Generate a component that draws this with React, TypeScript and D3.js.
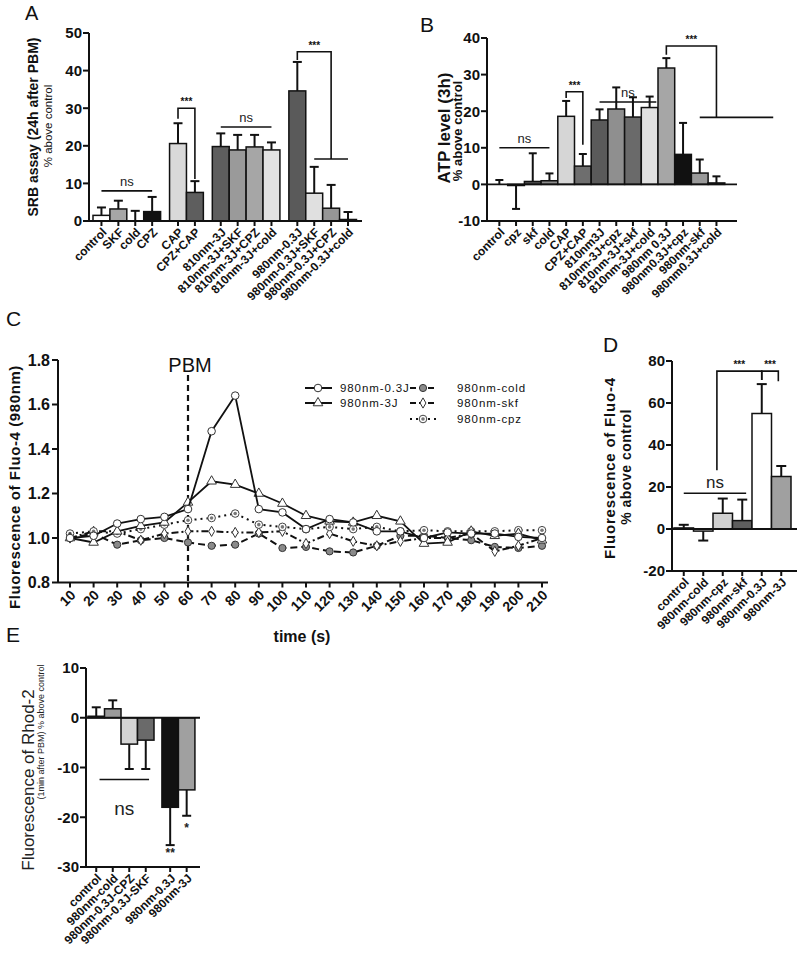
import * as d3 from 'd3';
import * as React from 'react';

const FONT = '"Liberation Sans", Arial, sans-serif';
const INK = '#111';

// ---------- panel A : SRB assay ----------
const aLabels = ['control', 'SKF', 'cold', 'CPZ', 'CAP', 'CPZ+CAP', '810nm-3J', '810nm-3J+SKF', '810nm-3J+CPZ', '810nm-3J+cold', '980nm-0.3J', '980nm-0.3J+SKF', '980nm-0.3J+CPZ', '980nm-0.3J+cold'];
const aGroups = [0, 0, 0, 0, 1, 1, 2, 2, 2, 2, 3, 3, 3, 3];
const aValues = [1.5, 3.2, 0, 2.5, 20.6, 7.6, 19.8, 18.9, 19.7, 18.9, 34.6, 7.4, 3.4, 0.4];
const aErrEnd = [3.6, 5.4, 2.7, 6.4, 26, 10.6, 23.3, 22.9, 22.9, 20.9, 42.3, 14.4, 9.6, 2.4];
const aFills = ['#ffffff', '#a6a6a6', '#ffffff', '#111111', '#d9d9d9', '#5e5e5e', '#5e5e5e', '#9a9a9a', '#a6a6a6', '#e2e2e2', '#5a5a5a', '#e0e0e0', '#969696', '#ffffff'];
const aTicks = [0, 10, 20, 30, 40, 50];

// ---------- panel B : ATP level ----------
const bLabels = ['control', 'cpz', 'skf', 'cold', 'CAP', 'CPZ+CAP', '810nm3J', '810nm-3J+cpz', '810nm-3J+skf', '810nm-3J+cold', '980nm 0.3J', '980nm0.3J+cpz', '980nm-skf', '980nm0.3J+cold'];
const bValues = [0, -0.3, 0.8, 1, 18.6, 5, 17.6, 20.6, 18.4, 21, 31.8, 8.2, 3.1, 0.4];
const bErrEnd = [1.2, -6.7, 8.5, 3, 22.8, 8.3, 20.5, 26.5, 23.8, 24, 34.5, 16.8, 6.8, 2.2];
const bFills = ['#ffffff', '#ffffff', '#555555', '#8c8c8c', '#d6d6d6', '#6e6e6e', '#5a5a5a', '#8f8f8f', '#6a6a6a', '#e0e0e0', '#a6a6a6', '#111111', '#9a9a9a', '#ffffff'];
const bTicks = [-10, 0, 10, 20, 30, 40];

// ---------- panel C : Fluo-4 time course ----------
const cTimes = [10, 20, 30, 40, 50, 60, 70, 80, 90, 100, 110, 120, 130, 140, 150, 160, 170, 180, 190, 200, 210];
const c03J = [1.0, 1.01, 1.065, 1.085, 1.095, 1.13, 1.48, 1.64, 1.13, 1.115, 1.04, 1.085, 1.07, 1.03, 1.03, 1.0, 1.025, 1.02, 1.02, 1.005, 1.0];
const c3J = [1.0, 0.98, 1.03, 1.055, 1.07, 1.16, 1.255, 1.24, 1.2, 1.155, 1.1, 1.075, 1.07, 1.1, 1.075, 0.975, 0.98, 1.03, 1.01, 1.02, 0.99];
const cCold = [1.0, 1.02, 0.97, 0.99, 1.0, 0.98, 0.965, 0.97, 1.02, 0.955, 0.96, 0.94, 0.935, 0.965, 1.01, 1.01, 1.0, 0.99, 0.96, 0.955, 0.965];
const cSkf = [1.0, 1.03, 1.03, 0.99, 1.02, 1.03, 1.03, 1.025, 1.025, 1.03, 0.975, 1.02, 0.985, 0.965, 0.985, 1.0, 1.0, 1.02, 0.94, 0.965, 1.0];
const cCpz = [1.02, 1.03, 1.02, 1.04, 1.06, 1.08, 1.09, 1.11, 1.06, 1.05, 1.04, 1.05, 1.04, 1.05, 1.03, 1.035, 1.03, 1.03, 1.03, 1.035, 1.035];
const cYTicks = [0.8, 1.0, 1.2, 1.4, 1.6, 1.8];

// ---------- panel D : Fluo-4 % ----------
const dLabels = ['control', '980nm-cold', '980nm-cpz', '980nm-skf', '980nm-0.3J', '980nm-3J'];
const dValues = [0.5, -1, 7.5, 4, 55, 25];
const dErrEnd = [2, -5.5, 14.5, 14, 69, 30];
const dFills = ['#ffffff', '#ffffff', '#d0d0d0', '#5e5e5e', '#ffffff', '#a0a0a0'];
const dTicks = [-20, 0, 20, 40, 60, 80];

// ---------- panel E : Rhod-2 ----------
const eLabels = ['control', '980nm-cold', '980nm-0.3J-CPZ', '980nm-0.3J-SKF', '980nm-0.3J', '980nm-3J'];
const eGroups = [0, 0, 0, 0, 1, 1];
const eValues = [0.3, 1.8, -5.3, -4.5, -18, -14.5];
const eErrEnd = [2.1, 3.5, -10.3, -10.3, -25.6, -19.7];
const eFills = ['#ffffff', '#9a9a9a', '#d4d4d4', '#6a6a6a', '#111111', '#a0a0a0'];
const eTicks = [-30, -20, -10, 0, 10];

type Ns = { from: number; to: number; y: number; label?: string; labelY?: number; size?: number };
type Bracket = { from: number; to: number; y: number; drop1: number; drop2: number; label: string };
type BarCfg = {
  labels: string[];
  groups?: number[];
  values: number[];
  errEnd: number[];
  fills: string[];
  ticks: number[];
  yDomain: [number, number];
  yRange: [number, number];
  axisX: number;
  firstX: number;
  slot: number;
  gapRatio: number;
  axisEnd: number;
  capW: number;
  tickSize: number;
  labelSize: number;
  ns: Ns[];
  brackets: Bracket[];
  lines: { from: number; to: number; y: number }[];
  stars?: { i: number; y: number; label: string }[];
};

function BarPanel({ p }: { p: BarCfg }) {
  const y = d3.scaleLinear().domain(p.yDomain).range(p.yRange);
  const n = p.labels.length;
  const grp = (i: number) => (p.groups ? p.groups[Math.max(0, Math.min(n - 1, Math.floor(i)))] : 0);
  const slot = d3.scaleLinear().domain([0, 1]).range([p.firstX, p.firstX + p.slot]);
  const left = (i: number) => slot(i + grp(i) * p.gapRatio);
  const cx = (i: number) => slot(i + 0.5 + grp(i) * p.gapRatio);
  const bottom = y(p.yDomain[0]);
  const top = y(p.yDomain[1]);
  const zero = y(0);

  return (
    <g>
      {p.values.map((v, i) => (
        <g key={i}>
          <line x1={cx(i)} x2={cx(i)} y1={y(v)} y2={y(p.errEnd[i])} stroke={INK} strokeWidth={2} />
          <line x1={cx(i) - p.capW / 2} x2={cx(i) + p.capW / 2} y1={y(p.errEnd[i])} y2={y(p.errEnd[i])} stroke={INK} strokeWidth={2} />
          {v !== 0 && (
            <rect x={left(i)} width={p.slot} y={Math.min(y(v), zero)} height={Math.abs(y(v) - zero)} fill={p.fills[i]} stroke={INK} strokeWidth={1.5} />
          )}
        </g>
      ))}
      {p.yDomain[0] < 0 && <line x1={p.axisX} x2={p.axisEnd} y1={zero} y2={zero} stroke={INK} strokeWidth={1.8} />}
      <line x1={p.axisX} x2={p.axisX} y1={bottom} y2={top} stroke={INK} strokeWidth={2} />
      <line x1={p.axisX} x2={p.axisEnd} y1={bottom} y2={bottom} stroke={INK} strokeWidth={2} />
      {p.ticks.map((t) => (
        <g key={t}>
          <line x1={p.axisX - 6} x2={p.axisX} y1={y(t)} y2={y(t)} stroke={INK} strokeWidth={2} />
          <text x={p.axisX - 7} y={y(t)} dy="0.36em" textAnchor="end" fontSize={p.tickSize} fontWeight="bold" fill={INK}>
            {t}
          </text>
        </g>
      ))}
      {p.labels.map((l, i) => (
        <g key={l}>
          <line x1={cx(i)} x2={cx(i)} y1={bottom} y2={bottom + 5} stroke={INK} strokeWidth={2} />
          <text transform={`translate(${cx(i) + 3},${bottom + 9}) rotate(-45)`} textAnchor="end" dy="0.35em" fontSize={p.labelSize} fontWeight="bold" fill={INK}>
            {l}
          </text>
        </g>
      ))}
      {p.ns.map((s, k) => (
        <g key={k}>
          <line x1={cx(s.from)} x2={cx(s.to)} y1={y(s.y)} y2={y(s.y)} stroke={INK} strokeWidth={1.6} />
          <text x={(cx(s.from) + cx(s.to)) / 2} y={s.labelY !== undefined ? y(s.labelY) : y(s.y) - 5} textAnchor="middle" fontSize={s.size ?? 13} fill="#222">
            {s.label ?? 'ns'}
          </text>
        </g>
      ))}
      {p.brackets.map((b, k) => (
        <g key={k}>
          <path d={`M${cx(b.from)},${y(b.drop1)}V${y(b.y)}H${cx(b.to)}V${y(b.drop2)}`} fill="none" stroke={INK} strokeWidth={1.6} />
          <text x={(cx(b.from) + cx(b.to)) / 2} y={y(b.y) - 3} textAnchor="middle" fontSize={10} fontWeight="bold" fill={INK}>
            {b.label}
          </text>
        </g>
      ))}
      {p.lines.map((l, k) => (
        <line key={k} x1={cx(l.from)} x2={cx(l.to)} y1={y(l.y)} y2={y(l.y)} stroke={INK} strokeWidth={1.6} />
      ))}
      {(p.stars ?? []).map((s, k) => (
        <text key={k} x={cx(s.i)} y={y(s.y)} textAnchor="middle" fontSize={12} fontWeight="bold" fill="#222">
          {s.label}
        </text>
      ))}
    </g>
  );
}

const panelA: BarCfg = {
  labels: aLabels, groups: aGroups, values: aValues, errEnd: aErrEnd, fills: aFills, ticks: aTicks,
  yDomain: [0, 50], yRange: [221, 33], axisX: 89, firstX: 93, slot: 16.9, gapRatio: 0.53, axisEnd: 362,
  capW: 9, tickSize: 15, labelSize: 12,
  ns: [{ from: 0, to: 3, y: 8 }, { from: 6, to: 9, y: 25 }],
  brackets: [
    { from: 4, to: 5, y: 30, drop1: 27.2, drop2: 11.2, label: '***' },
    { from: 10, to: 12, y: 45, drop1: 42.8, drop2: 16.5, label: '***' },
  ],
  lines: [{ from: 11, to: 13, y: 16.5 }],
};

const panelB: BarCfg = {
  labels: bLabels, values: bValues, errEnd: bErrEnd, fills: bFills, ticks: bTicks,
  yDomain: [-10, 40], yRange: [221, 38], axisX: 487, firstX: 491, slot: 16.7, gapRatio: 0, axisEnd: 737,
  capW: 8, tickSize: 15, labelSize: 12,
  ns: [{ from: 0, to: 3, y: 10 }, { from: 6, to: 9.4, y: 22.5 }],
  brackets: [
    { from: 4, to: 5, y: 25.3, drop1: 23.6, drop2: 10.8, label: '***' },
    { from: 10, to: 13, y: 37.8, drop1: 35.4, drop2: 18.3, label: '***' },
  ],
  lines: [{ from: 12, to: 16.4, y: 18.3 }],
};

const panelD: BarCfg = {
  labels: dLabels, values: dValues, errEnd: dErrEnd, fills: dFills, ticks: dTicks,
  yDomain: [-20, 80], yRange: [571, 361], axisX: 672, firstX: 674, slot: 19.5, gapRatio: 0, axisEnd: 797,
  capW: 10, tickSize: 15, labelSize: 12,
  ns: [{ from: 0, to: 3.2, y: 17, size: 17 }],
  brackets: [
    { from: 1.7, to: 4, y: 75.2, drop1: 28, drop2: 71, label: '***' },
    { from: 4, to: 4.85, y: 75.2, drop1: 71, drop2: 70.3, label: '***' },
  ],
  lines: [],
};

const panelE: BarCfg = {
  labels: eLabels, groups: eGroups, values: eValues, errEnd: eErrEnd, fills: eFills, ticks: eTicks,
  yDomain: [-30, 10], yRange: [867, 668], axisX: 86, firstX: 88, slot: 16.5, gapRatio: 0.48, axisEnd: 200,
  capW: 9, tickSize: 15, labelSize: 12,
  ns: [{ from: 0.2, to: 3.2, y: -12.4, labelY: -19.6, size: 19 }],
  brackets: [],
  lines: [],
  stars: [{ i: 4, y: -28, label: '**' }, { i: 5, y: -23, label: '*' }],
};

type SeriesDef = { name: string; values: number[]; dash: string; marker: string; width: number };
const cSeries: SeriesDef[] = [
  { name: '980nm-cold', values: cCold, dash: '7,4', marker: 'filled', width: 2 },
  { name: '980nm-skf', values: cSkf, dash: '7,3,2,3', marker: 'diamond', width: 2 },
  { name: '980nm-cpz', values: cCpz, dash: '2,4', marker: 'dot', width: 2 },
  { name: '980nm-3J', values: c3J, dash: '', marker: 'triangle', width: 1.8 },
  { name: '980nm-0.3J', values: c03J, dash: '', marker: 'circle', width: 1.8 },
];

function Marker({ kind, x, y }: { kind: string; x: number; y: number }) {
  if (kind === 'triangle') {
    return <path d={d3.symbol(d3.symbolTriangle, 40)()!} transform={`translate(${x},${y})`} fill="#fff" stroke="#333" strokeWidth={1} />;
  }
  if (kind === 'diamond') {
    return <path d={d3.symbol(d3.symbolDiamond, 30)()!} transform={`translate(${x},${y})`} fill="#fff" stroke="#333" strokeWidth={1} />;
  }
  if (kind === 'filled') {
    return <circle cx={x} cy={y} r={3.6} fill="#8a8a8a" stroke="#333" strokeWidth={1} />;
  }
  if (kind === 'dot') {
    return (
      <g>
        <circle cx={x} cy={y} r={3.8} fill="#fff" stroke="#444" strokeWidth={1} />
        <circle cx={x} cy={y} r={1.8} fill="#777" />
      </g>
    );
  }
  return <circle cx={x} cy={y} r={3.8} fill="#fff" stroke="#333" strokeWidth={1} />;
}

function PanelC() {
  const x = d3.scaleLinear().domain([10, 210]).range([70, 542]);
  const y = d3.scaleLinear().domain([0.8, 1.8]).range([582.5, 360]);
  const line = d3.line<number>().x((_, i) => x(cTimes[i])).y((v) => y(v));
  const bottom = y(0.8);
  const legendRows = [
    { s: cSeries[4], lx: 305, ty: 388 },
    { s: cSeries[3], lx: 305, ty: 403 },
    { s: cSeries[0], lx: 410, ty: 388 },
    { s: cSeries[1], lx: 410, ty: 403 },
    { s: cSeries[2], lx: 410, ty: 419 },
  ];
  return (
    <g>
      <line x1={x(60)} x2={x(60)} y1={375} y2={bottom} stroke={INK} strokeWidth={2.2} strokeDasharray="6,4" />
      <text x={x(60) + 2} y={372} textAnchor="middle" fontSize={20} fill={INK}>PBM</text>
      {cSeries.map((s) => (
        <g key={s.name}>
          <path d={line(s.values)!} fill="none" stroke={INK} strokeWidth={s.width} strokeDasharray={s.dash || undefined} />
          {s.values.map((v, i) => (
            <Marker key={i} kind={s.marker} x={x(cTimes[i])} y={y(v)} />
          ))}
        </g>
      ))}
      <line x1={58} x2={58} y1={bottom} y2={y(1.8)} stroke={INK} strokeWidth={2} />
      <line x1={58} x2={x(210) + 6} y1={bottom} y2={bottom} stroke={INK} strokeWidth={2} />
      {cYTicks.map((t) => (
        <g key={t}>
          <line x1={52} x2={58} y1={y(t)} y2={y(t)} stroke={INK} strokeWidth={2} />
          <text x={50} y={y(t)} dy="0.36em" textAnchor="end" fontSize={16} fontWeight="bold" fill={INK}>
            {t.toFixed(1)}
          </text>
        </g>
      ))}
      {cTimes.map((t) => (
        <g key={t}>
          <line x1={x(t)} x2={x(t)} y1={bottom} y2={bottom + 5} stroke={INK} strokeWidth={2} />
          <text transform={`translate(${x(t) + 3},${bottom + 10}) rotate(-45)`} textAnchor="end" dy="0.35em" fontSize={14} fontWeight="bold" fill={INK}>
            {t}
          </text>
        </g>
      ))}
      <text x={302} y={642} textAnchor="middle" fontSize={16} fontWeight="bold" fill={INK}>time (s)</text>
      <text transform="translate(20,487) rotate(-90)" textAnchor="middle" fontSize={15} fontWeight="bold" fill={INK} letterSpacing={0.6}>
        Fluorescence of Fluo-4 (980nm)
      </text>
      {legendRows.map(({ s, lx, ty }) => (
        <g key={s.name}>
          <line x1={lx} x2={lx + 27} y1={ty} y2={ty} stroke={INK} strokeWidth={2} strokeDasharray={s.dash ? (s.dash === '2,4' ? '2,4' : '6,3') : undefined} />
          <Marker kind={s.marker} x={lx + 13} y={ty} />
          <text x={lx + (lx < 400 ? 35 : 47)} y={ty} dy="0.35em" fontSize={11.5} letterSpacing={0.9} fill={INK}>
            {s.name}
          </text>
        </g>
      ))}
    </g>
  );
}

export default function App() {
  return (
    <svg width={800} height={953} style={{ position: 'absolute', left: 0, top: 0, background: '#fff' }} fontFamily={FONT}>
      <rect width={800} height={953} fill="#fff" />
      {/* A */}
      <text x={25} y={20} fontSize={20} fill={INK}>A</text>
      <text transform="translate(38,127) rotate(-90)" textAnchor="middle" fontSize={14} fontWeight="bold" fill={INK}>SRB assay (24h after PBM)</text>
      <text transform="translate(52,126) rotate(-90)" textAnchor="middle" fontSize={11.5} fill={INK}>% above control</text>
      <BarPanel p={panelA} />
      {/* B */}
      <text x={420} y={32} fontSize={21} fill={INK}>B</text>
      <text transform="translate(450,128) rotate(-90)" textAnchor="middle" fontSize={17} fontWeight="bold" fill={INK}>ATP level (3h)</text>
      <text transform="translate(462,131) rotate(-90)" textAnchor="middle" fontSize={13} fontWeight="bold" fill={INK}>% above control</text>
      <BarPanel p={panelB} />
      {/* C */}
      <text x={6} y={326} fontSize={21} fill={INK}>C</text>
      <PanelC />
      {/* D */}
      <text x={603} y={352} fontSize={21} fill={INK}>D</text>
      <text transform="translate(615,468) rotate(-90)" textAnchor="middle" fontSize={15} fontWeight="bold" letterSpacing={0.8} fill={INK}>Fluorescence of Fluo-4</text>
      <text transform="translate(631,467) rotate(-90)" textAnchor="middle" fontSize={14} fontWeight="bold" letterSpacing={0.5} fill={INK}>% above control</text>
      <BarPanel p={panelD} />
      {/* E */}
      <text x={6} y={642} fontSize={21} fill={INK}>E</text>
      <text transform="translate(34,780) rotate(-90)" textAnchor="middle" fontSize={17} fill="#222">Fluorescence of Rhod-2</text>
      <text transform="translate(44,732) rotate(-90)" textAnchor="middle" fontSize={9} fill="#222">(1min after PBM) % above control</text>
      <BarPanel p={panelE} />
    </svg>
  );
}
